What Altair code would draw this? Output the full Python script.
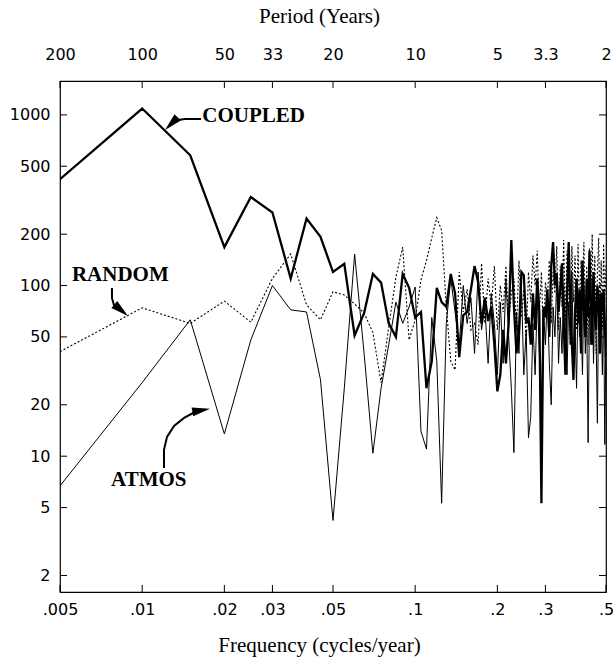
import altair as alt
import pandas as pd

# Fourier frequencies of a 200-year record: k/200 cycles/year, k = 1..100
freq = [k / 200 for k in range(1, 101)]

coupled = [420, 1090, 580, 168, 330, 268, 110, 247, 193, 120,
           134, 51, 69, 117, 104, 60, 50, 117, 97, 65,
           70, 25, 36, 97, 80, 75, 117, 90, 38, 67,
           70, 95, 130, 105, 60, 85, 62, 75, 45, 24,
           30, 55, 35, 60, 185, 75, 40, 55, 120, 115,
           60, 65, 45, 90, 55, 110, 70, 5.3, 75, 65,
           95, 50, 130, 180, 100, 118, 70, 95, 135, 60,
           30, 90, 180, 80, 45, 28, 70, 110, 60, 95,
           40, 140, 75, 50, 110, 65, 160, 80, 45, 120,
           70, 55, 100, 85, 40, 90, 70, 95, 60, 38]

random_ = [41, 74, 60, 81, 61, 110, 153, 77, 63, 92,
           88, 78, 69, 53, 27, 57, 112, 168, 48, 63,
           108, 140, 190, 250, 210, 75, 36, 32, 120, 70,
           95, 55, 60, 45, 135, 60, 110, 75, 130, 55,
           100, 70, 130, 60, 90, 110, 55, 140, 65, 95,
           45, 120, 80, 150, 100, 160, 70, 120, 50, 105,
           85, 140, 60, 120, 90, 170, 55, 130, 75, 185,
           60, 160, 90, 45, 170, 80, 150, 55, 175, 70,
           140, 100, 180, 60, 130, 45, 165, 90, 200, 75,
           150, 40, 120, 190, 65, 140, 55, 175, 80, 130]

atmos = [6.7, 27, 63, 13.5, 48, 100, 72, 70, 28, 4.2,
         25, 153, 40, 10.4, 25, 45, 80, 60, 75, 98,
         14, 11, 65, 36, 5.3, 60, 110, 70, 45, 100,
         60, 85, 40, 120, 55, 75, 35, 90, 60, 30,
         80, 35, 110, 50, 25, 10.5, 70, 40, 100, 30,
         55, 12.8, 17, 60, 30, 85, 40, 20, 70, 45,
         90, 35, 20, 75, 50, 110, 35, 65, 40, 100,
         50, 30, 80, 45, 120, 35, 60, 25, 90, 50,
         70, 30, 100, 40, 65, 12, 75, 45, 110, 35,
         80, 50, 15.6, 90, 40, 70, 30, 85, 11.7, 60]

x_ticks = [0.005, 0.01, 0.02, 0.03, 0.05, 0.1, 0.2, 0.3, 0.5]
x_labels = [".005", ".01", ".02", ".03", ".05", ".1", ".2", ".3", ".5"]
period_labels = ["200", "100", "50", "33", "20", "10", "5", "3.3", "2"]
y_ticks = [2, 5, 10, 20, 50, 100, 200, 500, 1000]

series_names = ["ATMOS", "RANDOM", "COUPLED"]

rows = []
for name, vals in zip(series_names, [atmos, random_, coupled]):
    for f, v in zip(freq, vals):
        rows.append({"series": name, "freq": f, "value": v})
df = pd.DataFrame(rows)

# annotation labels and curved arrows (in data units)
labels_df = pd.DataFrame({
    "text": ["COUPLED", "RANDOM", "ATMOS"],
    "freq": [0.01660, 0.00553, 0.00769],
    "value": [985, 115.4, 7.26],
})
arrows_df = pd.DataFrame({
    "arrow": ["c"] * 5 + ["r"] * 5 + ["a"] * 7,
    "i": list(range(5)) + list(range(5)) + list(range(7)),
    "freq": [0.01643, 0.01436, 0.01353, 0.01300, 0.01279,
             0.00775, 0.00775, 0.00788, 0.00815, 0.008376,
             0.01202, 0.01202, 0.01233, 0.01308, 0.01424, 0.01560, 0.01645],
    "value": [946, 946, 933, 905, 888,
              96.8, 84.6, 76.96, 72.5, 71.7,
              8.54, 10.89, 12.98, 15.05, 16.76, 18.15, 18.55],
})
heads_df = pd.DataFrame({
    "freq": [0.01279, 0.008376, 0.01645],
    "value": [888, 71.7, 18.55],
    "ang": [225, 130, 80],
})

W, H = 546, 511


def lbl_expr(vals, labs):
    parts = [f"datum.value == {v} ? '{l}'" for v, l in zip(vals, labs)]
    return " : ".join(parts) + " : ''"


xscale = alt.Scale(type="log", domain=[0.005, 0.5], nice=False)
yscale = alt.Scale(type="log", domain=[1.6, 1580], nice=False)

bottom_axis = alt.Axis(values=x_ticks, labelExpr=lbl_expr(x_ticks, x_labels),
                       ticks=False, tickSize=0, domain=False, grid=False,
                       labelPadding=9, labelFont="DejaVu Sans", labelFontSize=16,
                       labelColor="black", labelFlush=False, labelOverlap=False,
                       title="Frequency (cycles/year)", titleFont="Liberation Serif",
                       titleFontSize=21, titleFontWeight="normal", titleColor="black",
                       titleX=259, titleY=53, titleBaseline="middle", titleAlign="center")
top_axis = alt.Axis(orient="top", values=x_ticks, labelExpr=lbl_expr(x_ticks, period_labels),
                    ticks=False, tickSize=0, domain=False, grid=False,
                    labelPadding=19, labelFont="DejaVu Sans", labelFontSize=16,
                    labelColor="black", labelFlush=False, labelOverlap=False,
                    title="Period (Years)", titleFont="Liberation Serif",
                    titleFontSize=21, titleFontWeight="normal", titleColor="black",
                    titleX=259, titleY=-65, titleBaseline="middle", titleAlign="center")
left_axis = alt.Axis(values=y_ticks, format="d", ticks=False, tickSize=0, domain=False,
                     grid=False, labelPadding=10, labelFont="DejaVu Sans", labelFontSize=16,
                     labelColor="black", labelFlush=False, labelOverlap=False, title=None)

X = lambda axis=None: alt.X("freq:Q", scale=xscale, axis=axis)
Y = alt.Y("value:Q", scale=yscale, axis=left_axis)

base = alt.Chart(df)
atmos_line = base.transform_filter(alt.datum.series == "ATMOS").mark_line(
    color="black", strokeWidth=1, clip=True).encode(x=X(bottom_axis), y=Y)
random_line = base.transform_filter(alt.datum.series == "RANDOM").mark_line(
    color="black", strokeWidth=1.1, strokeDash=[2, 2], clip=True).encode(x=X(), y=Y)
coupled_line = base.transform_filter(alt.datum.series == "COUPLED").mark_line(
    color="black", strokeWidth=2.3, clip=True).encode(x=X(), y=Y)

xt_df = pd.DataFrame({"freq": x_ticks})
yt_df = pd.DataFrame({"value": y_ticks})
bottom_ticks = alt.Chart(xt_df).mark_rule(color="black", strokeWidth=1).encode(
    x=X(top_axis), y=alt.value(H), y2=alt.value(H - 7))
top_ticks = alt.Chart(xt_df).mark_rule(color="black", strokeWidth=1).encode(
    x=X(), y=alt.value(0), y2=alt.value(7))
left_ticks = alt.Chart(yt_df).mark_rule(color="black", strokeWidth=1).encode(
    y=Y, x=alt.value(0), x2=alt.value(7))
right_ticks = alt.Chart(yt_df).mark_rule(color="black", strokeWidth=1).encode(
    y=Y, x=alt.value(W), x2=alt.value(W - 7))

texts = alt.Chart(labels_df).mark_text(
    font="Liberation Serif", fontWeight="bold", fontSize=21, align="left",
    baseline="middle", color="black").encode(x=X(), y=Y, text="text:N")
arrows = alt.Chart(arrows_df).mark_line(color="black", strokeWidth=2).encode(
    x=X(), y=Y, detail="arrow:N", order="i:Q")
heads = alt.Chart(heads_df).mark_point(
    shape="M0,-1L0.5,1L-0.5,1Z", filled=True, color="black", opacity=1,
    size=320, strokeWidth=0).encode(x=X(), y=Y, angle=alt.Angle("ang:Q", scale=None))

chart = alt.layer(
    atmos_line, random_line, coupled_line,
    bottom_ticks, top_ticks, left_ticks, right_ticks,
    arrows, heads, texts,
).resolve_axis(x="independent").properties(
    width=W, height=H,
    autosize=alt.AutoSizeParams(type="none"),
    padding={"left": 60, "top": 81, "right": 8, "bottom": 65},
    background="white",
).configure_view(stroke="black", strokeWidth=1.2)

chart.save("out.html", embed_options={"renderer": "svg", "actions": False})
